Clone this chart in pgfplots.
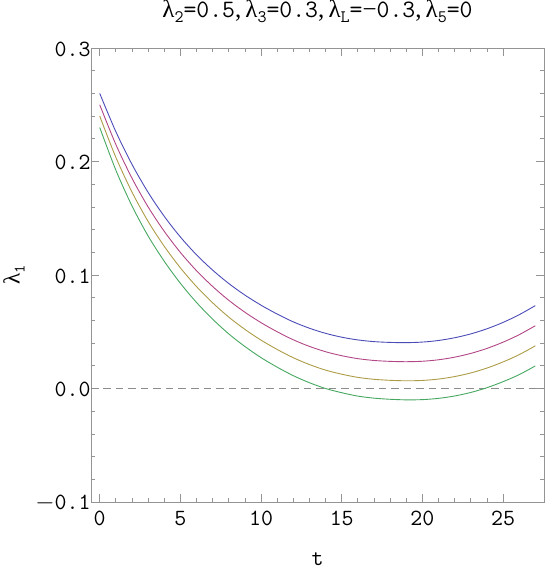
\documentclass[border=0pt]{standalone}
\usepackage{fontspec}
\usepackage{pgfplots}
\pgfplotsset{compat=1.18}
\usepackage{pgfplotstable}
\newfontfamily\grk{Liberation Serif}
\newcommand\lamT[1]{{\grk λ}\raisebox{-0.22em}{\fontsize{17.5bp}{20bp}\selectfont\ttfamily #1}}
\newcommand\lamY[1]{{\grk λ}\raisebox{-0.22em}{\fontsize{16bp}{19bp}\selectfont\ttfamily #1}}
\definecolor{c1}{rgb}{0.30,0.30,0.72}
\definecolor{c2}{rgb}{0.70,0.28,0.52}
\definecolor{c3}{rgb}{0.68,0.61,0.28}
\definecolor{c4}{rgb}{0.28,0.66,0.38}
\pgfplotstableread{
t blue red yellow green
0 0.2600 0.2500 0.2400 0.2300
1 0.2263 0.2150 0.2037 0.1924
2 0.1975 0.1853 0.1731 0.1609
3 0.1728 0.1600 0.1472 0.1344
4 0.1517 0.1385 0.1253 0.1121
5 0.1335 0.1199 0.1063 0.0927
6 0.1178 0.1038 0.0898 0.0758
7 0.1043 0.0899 0.0755 0.0611
8 0.0925 0.0777 0.0629 0.0481
9 0.0823 0.0672 0.0521 0.0370
10 0.0734 0.0580 0.0426 0.0272
11 0.0656 0.0500 0.0344 0.0188
12 0.0587 0.0429 0.0271 0.0113
13 0.0531 0.0371 0.0211 0.0051
14 0.0486 0.0324 0.0162 0.0000
15 0.0452 0.0289 0.0126 -0.0037
16 0.0428 0.0263 0.0098 -0.0067
17 0.0413 0.0247 0.0081 -0.0085
18 0.0406 0.0239 0.0072 -0.0095
19 0.0404 0.0236 0.0068 -0.0100
20 0.0409 0.0240 0.0071 -0.0098
21 0.0423 0.0253 0.0083 -0.0087
22 0.0447 0.0276 0.0105 -0.0066
23 0.0481 0.0309 0.0137 -0.0035
24 0.0526 0.0353 0.0180 0.0007
25 0.0582 0.0408 0.0234 0.0060
26 0.0650 0.0474 0.0298 0.0122
27 0.0730 0.0553 0.0376 0.0199
}\data
\begin{document}
\begin{tikzpicture}
\begin{axis}[name=ax, scale only axis, width=453bp, height=454bp,
  xmin=-0.54, xmax=27.54, ymin=-0.1, ymax=0.3,
  axis line style={black!42, line width=0.8bp},
  tick style={black!42, line width=0.7bp},
  major tick length=8bp, minor tick length=4.5bp,
  tick align=inside,
  xtick={0,5,10,15,20,25}, xticklabels={0,5,10,15,20,25},
  minor x tick num=4,
  ytick={-0.1,0,0.1,0.2,0.3}, yticklabels={$-$0.1,0.0,0.1,0.2,0.3},
  minor y tick num=4,
  ticklabel style={font=\ttfamily\fontsize{23.2bp}{28bp}\selectfont},
  xticklabel style={yshift=-6bp},
  yticklabel style={xshift=3bp, yshift=-1bp},
  title={\lamT{2}=0.5{\grk ,}\,\lamT{3}=0.3{\grk ,}\,\lamT{L}={\grk −}0.3{\grk ,}\,\lamT{5}=0},
  title style={at={(axis description cs:0.5,1)}, anchor=base, inner sep=0pt, yshift=25bp, font=\ttfamily\fontsize{25bp}{30bp}\selectfont},
  xlabel={t},
  xlabel style={at={(axis description cs:0.5,0)}, anchor=base, inner sep=0pt, yshift=-63bp, font=\ttfamily\fontsize{23.2bp}{28bp}\selectfont},
  ylabel={\lamY{1}},
  ylabel style={at={(axis description cs:-0.170,0.5)}, anchor=center, inner sep=0pt, font=\ttfamily\fontsize{23.2bp}{28bp}\selectfont},
]
\addplot[black!45, line width=1.2bp, dash pattern=on 7.5bp off 5bp] coordinates {(-0.54,0) (27.54,0)};
\addplot[c1, line width=0.9bp, smooth] table[x=t,y=blue] {\data};
\addplot[c2, line width=0.9bp, smooth] table[x=t,y=red] {\data};
\addplot[c3, line width=0.9bp, smooth] table[x=t,y=yellow] {\data};
\addplot[c4, line width=0.9bp, smooth] table[x=t,y=green] {\data};
\end{axis}
\pgfresetboundingbox
\path ([xshift=-91bp,yshift=-68bp]ax.south west) rectangle ([xshift=1bp,yshift=48bp]ax.north east);
\end{tikzpicture}
\end{document}
